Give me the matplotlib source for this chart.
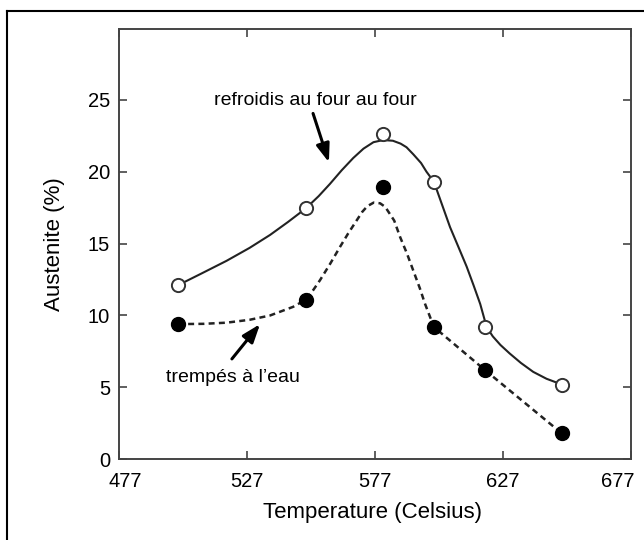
import matplotlib
matplotlib.use("Agg")
import matplotlib.pyplot as plt
from matplotlib.lines import Line2D
from matplotlib.transforms import ScaledTranslation

plt.rcParams['font.family'] = ['Liberation Sans', 'DejaVu Sans']

# measured points
temp = [500, 550, 580, 600, 620, 650]
four = [12.1, 17.5, 22.6, 19.3, 9.2, 5.2]      # refroidis au four (open circles)
eau = [9.4, 11.1, 18.9, 9.2, 6.2, 1.8]         # trempés à l'eau (filled)

# hand drawn fit curves
four_curve_x = [500, 509, 519, 528, 536, 543, 550, 555, 559.4, 564, 568.5, 572.5, 576.4,
                580.2, 584, 587, 589.3, 592, 595, 597.1, 600, 603, 606.3, 609.5, 612.8,
                615.5, 618.1, 620.6, 623, 626, 629.6, 634, 638.8, 644, 650]
four_curve_y = [12.1, 12.9, 13.8, 14.7, 15.6, 16.5, 17.45, 18.3, 19.15, 20.1, 20.95, 21.6, 22.05,
                22.2, 22.15, 21.95, 21.7, 21.2, 20.6, 20.0, 19.3, 17.8, 16.15, 14.8, 13.4,
                12.1, 10.8, 9.2, 8.55, 7.95, 7.36, 6.7, 6.08, 5.6, 5.2]
eau_curve_x = [500, 510, 519, 528, 536, 545, 550, 553, 555.5, 559.5, 563.3, 566.5, 569.8,
               572, 574, 576.5, 579, 581, 584.5, 586.8, 589.5, 592, 594.5, 596.5, 598.5,
               600, 620, 650]
eau_curve_y = [9.4, 9.42, 9.5, 9.7, 10.0, 10.6, 11.1, 11.8, 12.45, 13.6, 14.76, 15.7, 16.6,
               17.2, 17.6, 17.85, 17.8, 17.55, 16.6, 15.46, 14.3, 13.1, 11.9, 10.83, 9.9,
               9.2, 6.2, 1.8]

xticks = [477, 527, 577, 627, 677]
yticks = [0, 5, 10, 15, 20, 25]

fig = plt.figure(figsize=(6.44, 5.4), dpi=100)
ax = fig.add_axes([119 / 644, 80.7 / 540, 512 / 644, 430 / 540])

ax.plot(four_curve_x, four_curve_y, color='#222222', lw=1.5, zorder=2,
        solid_joinstyle='round')
ax.plot(eau_curve_x, eau_curve_y, color='#222222', lw=1.8,
        linestyle=(0, (2.4, 1.7)), zorder=2)
ax.plot(temp, four, 'o', ms=9.5, mfc='white', mec='#333333', mew=1.4, zorder=3)
ax.plot(temp, eau, 'o', ms=10, mfc='black', mec='black', zorder=3)

ax.set_xlim(477, 677)
ax.set_ylim(0, 29.9)
ax.set_xticks(xticks)
ax.set_yticks(yticks)
ax.tick_params(direction='in', length=5.5, width=1.2, color='#444444',
               labelsize=14.5, top=True, right=True)
ax.tick_params(axis='y', pad=6.5)
ax.tick_params(axis='x', pad=9)
for s in ax.spines.values():
    s.set_color('#444444')
    s.set_linewidth(1.4)

labels = ax.get_xticklabels()
labels[0].set_transform(labels[0].get_transform() + ScaledTranslation(6 / 100, 0, fig.dpi_scale_trans))
labels[-1].set_transform(labels[-1].get_transform() + ScaledTranslation(-13 / 100, 0, fig.dpi_scale_trans))

ax.set_xlabel('Temperature (Celsius)', fontsize=16)
ax.xaxis.set_label_coords(0.496, -0.1)
ax.set_ylabel('Austenite (%)', fontsize=16)
ax.yaxis.set_label_coords(-0.105, 0.5)

arrow = dict(arrowstyle='-|>,head_length=1.1,head_width=0.4',
             color='black', lw=2.2, shrinkA=0, shrinkB=0)
ax.text(553.6, 24.95, 'refroidis au four au four', fontsize=14, ha='center', va='center')
ax.annotate('', xy=(559.0, 20.65), xytext=(552.8, 24.05), arrowprops=arrow)
ax.text(521.5, 5.7, 'trempés à l’eau', fontsize=14, ha='center', va='center')
ax.annotate('', xy=(532.1, 9.4), xytext=(521.1, 6.98), arrowprops=arrow)

# frame around the picture (left and top edges show in the scan)
fig.add_artist(Line2D([7 / 644, 7 / 644], [0, 1 - 11 / 540], color='black', lw=1.5))
fig.add_artist(Line2D([7 / 644, 1], [1 - 11 / 540, 1 - 11 / 540], color='black', lw=1.5))

fig.savefig('out.png', dpi=100)
